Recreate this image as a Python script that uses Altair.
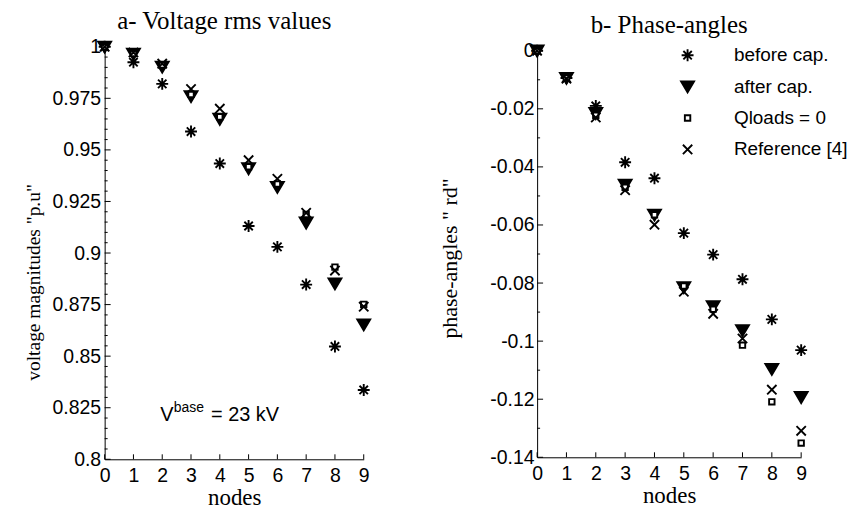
import altair as alt
import pandas as pd

nodes = [0, 1, 2, 3, 4, 5, 6, 7, 8, 9]
series = ["before cap.", "after cap.", "Qloads = 0", "Reference [4]"]

# a- Voltage rms values (p.u)
v_before = [1.0, 0.9925, 0.9820, 0.9589, 0.9434, 0.9131, 0.9030, 0.8847, 0.8547, 0.8336]
v_after = [1.0, 0.9965, 0.9903, 0.9760, 0.9650, 0.9410, 0.9320, 0.9147, 0.8852, 0.8653]
v_qloads = [1.0, 0.9968, 0.9912, 0.9769, 0.9660, 0.9418, 0.9335, 0.9187, 0.8932, 0.8751]
v_ref = [1.0, 0.9972, 0.9918, 0.9795, 0.9700, 0.9450, 0.9360, 0.9195, 0.8915, 0.8740]

# b- Phase-angles (rd)
p_before = [0.0, -0.0094, -0.0190, -0.0384, -0.0439, -0.0628, -0.0702, -0.0787, -0.0925, -0.1031]
p_after = [0.0, -0.0094, -0.0215, -0.0462, -0.0565, -0.0815, -0.0880, -0.0963, -0.1096, -0.1193]
p_qloads = [0.0, -0.0094, -0.0222, -0.0470, -0.0565, -0.0810, -0.0890, -0.1014, -0.1209, -0.1351]
p_ref = [0.0, -0.0096, -0.0230, -0.0480, -0.0599, -0.0830, -0.0906, -0.0991, -0.1167, -0.1309]

v_ticks = [1.0, 0.975, 0.95, 0.925, 0.9, 0.875, 0.85, 0.825, 0.8]
p_ticks = [0.0, -0.02, -0.04, -0.06, -0.08, -0.1, -0.12, -0.14]


def long_df(cols):
    rows = []
    for s, vals in zip(series, cols):
        for n, v in zip(nodes, vals):
            rows.append({"node": n, "value": v, "series": s})
    return pd.DataFrame(rows)


def minor_ticks(major, sub):
    out = []
    for a, b in zip(major[:-1], major[1:]):
        for k in range(1, sub):
            out.append(round(a + (b - a) * k / sub, 6))
    return out


ASTER = "M-0.92,0L0.92,0M0,-0.92L0,0.92M-0.65,-0.65L0.65,0.65M-0.65,0.65L0.65,-0.65"
TRI = "M-1,-0.8L1,-0.8L0,0.9Z"
SQR = "M-0.42,-0.42L0.42,-0.42L0.42,0.42L-0.42,0.42Z"
XPATH = "M-0.72,-0.72L0.72,0.72M-0.72,0.72L0.72,-0.72"
MSIZE = 169

shape_scale = alt.Scale(domain=series, range=[ASTER, TRI, SQR, XPATH])
fill_scale = alt.Scale(domain=series, range=["transparent", "black", "white", "transparent"])
stroke_scale = alt.Scale(domain=series, range=["black", "black", "black", "black"])

SANS = "Liberation Sans"
SERIF = "Liberation Serif"
LABEL_SIZE = 19.5


def encs(domain, ticks, ytitle, title_y, title_size, ylab_pad, ytitle_pad):
    xaxis = alt.Axis(values=nodes, ticks=False, grid=False, domainColor="black",
                     labelFont=SANS, labelFontSize=LABEL_SIZE, labelColor="black",
                     labelPadding=7, labelOverlap=False, labelFlush=False,
                     title="nodes", titleFont=SERIF,
                     titleFontSize=23, titleFontWeight="normal",
                     titleColor="black", titlePadding=2)
    yaxis = alt.Axis(values=ticks, ticks=False, grid=False, domainColor="black",
                     labelFont=SANS, labelFontSize=LABEL_SIZE, labelColor="black",
                     labelPadding=ylab_pad, labelExpr="'' + datum.value",
                     labelOverlap=False, labelFlush=False,
                     title=ytitle, titleFont=SERIF, titleFontSize=title_size,
                     titleFontWeight="normal", titleColor="black",
                     titlePadding=ytitle_pad, titleY=title_y)
    xenc = alt.X("node:Q", scale=alt.Scale(domain=[0, 9], nice=False, zero=False), axis=xaxis)
    yenc = alt.Y("value:Q", scale=alt.Scale(domain=domain, nice=False, zero=False), axis=yaxis)
    return xenc, yenc


def panel(df, xenc, yenc, ticks, minors, height, legend):
    xt = alt.Chart(pd.DataFrame({"node": nodes})).mark_rule(color="black", strokeWidth=1).encode(
        x=xenc, y=alt.value(height), y2=alt.value(height - 5))
    yt = alt.Chart(pd.DataFrame({"value": ticks})).mark_rule(color="black", strokeWidth=1).encode(
        y=yenc, x=alt.value(0), x2=alt.value(6))
    ym = alt.Chart(pd.DataFrame({"value": minors})).mark_rule(color="black", strokeWidth=1).encode(
        y=yenc, x=alt.value(0), x2=alt.value(3))
    pts = alt.Chart(df).mark_point(strokeWidth=1.9, opacity=1, size=MSIZE, clip=False).encode(
        x=xenc,
        y=yenc,
        shape=alt.Shape("series:N", scale=shape_scale, legend=legend, sort=series),
        fill=alt.Fill("series:N", scale=fill_scale, legend=legend, sort=series),
        stroke=alt.Stroke("series:N", scale=stroke_scale, legend=legend, sort=series),
    )
    return [xt, yt, ym, pts]


leg = alt.Legend(title=None, orient="none", legendX=141.5, legendY=-1, padding=0,
                 labelFont=SANS, labelFontSize=19, labelColor="black",
                 labelOffset=37, rowPadding=11.5, symbolSize=MSIZE,
                 symbolStrokeWidth=1.9, symbolOpacity=1)

# ---- left panel
LH = 414
lx, ly = encs([0.8, 1.0], v_ticks, 'voltage magnitudes "p.u"', 236, 19.5, 4, 9)
left_layers = panel(long_df([v_before, v_after, v_qloads, v_ref]), lx, ly, v_ticks,
                    minor_ticks(v_ticks, 5), LH, None)

ann = pd.DataFrame({"node": [1.93], "value": [0.8188]})
t1 = alt.Chart(ann).mark_text(align="left", baseline="alphabetic", font=SANS, fontSize=20,
                              color="black").encode(x=lx, y=ly, text=alt.value("V"))
t2 = alt.Chart(ann).mark_text(align="left", baseline="alphabetic", font=SANS, fontSize=14,
                              color="black", dx=13.5, dy=-9).encode(x=lx, y=ly, text=alt.value("base"))
t3 = alt.Chart(ann).mark_text(align="left", baseline="alphabetic", font=SANS, fontSize=20,
                              color="black", dx=51).encode(x=lx, y=ly, text=alt.value("= 23 kV"))

left = alt.layer(*left_layers, t1, t2, t3).properties(
    width=260, height=LH,
    title=alt.TitleParams("a- Voltage rms values", font=SERIF, fontSize=25, fontWeight="normal",
                          color="black", anchor="middle", dx=-10, offset=3))

# ---- right panel: its plot top sits ~4 px lower than the left one in the reference
RH = 412
p_top = 4 / 408 * 0.14
rx, ry = encs([-0.14, p_top], p_ticks, 'phase-angles  " rd"', 212, 22, 3, 28)
right_layers = panel(long_df([p_before, p_after, p_qloads, p_ref]), rx, ry, p_ticks,
                     minor_ticks(p_ticks, 2), RH, leg)
right = alt.layer(*right_layers).properties(
    width=265, height=RH,
    title=alt.TitleParams("b- Phase-angles", font=SERIF, fontSize=25, fontWeight="normal",
                          color="black", anchor="middle", offset=3))

chart = alt.hconcat(left, right, spacing=64).resolve_scale(
    shape="independent", fill="independent", stroke="independent"
).resolve_legend(shape="independent", fill="independent", stroke="independent").properties(
    padding={"left": 15, "top": 0, "right": 0, "bottom": 0}
).configure_view(stroke=None)

chart.save("out.html", embed_options={"renderer": "svg", "actions": False})
